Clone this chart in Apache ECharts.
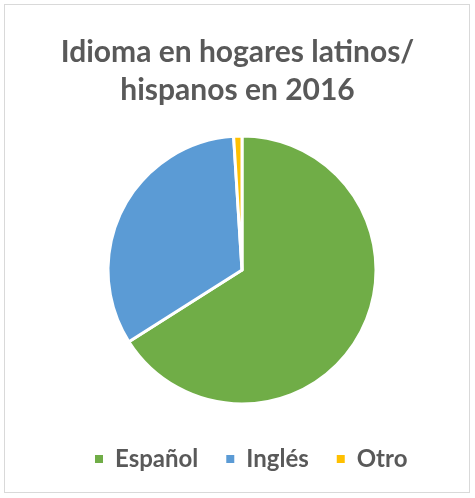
<!DOCTYPE html>
<html>
<head>
<meta charset="utf-8">
<script src="https://cdn.jsdelivr.net/npm/echarts@6/dist/echarts.min.js"></script>
<style>
html,body{margin:0;padding:0;background:#fff;}
#frame{position:absolute;left:4px;top:4px;width:466px;height:489px;border:1px solid #d9d9d9;box-sizing:border-box;}
#chart{position:absolute;left:0;top:0;width:475px;height:498px;}
</style>
</head>
<body>
<div id="frame"></div>
<div id="chart"></div>
<script>
// idioma en hogares
var categorias = ['Español', 'Inglés', 'Otro'];
var valores = [66, 33, 1];
var colores = ['#70ad47', '#5b9bd5', '#ffc000'];

var datos = categorias.map(function (c, i) {
    return {name: c, value: valores[i]};
});

var option = {
    color: colores,
    title: {
        text: 'Idioma en hogares latinos/\nhispanos en 2016',
        left: 'center',
        top: 28,
        textStyle: {
            color: '#595959',
            fontFamily: 'Lato',
            fontWeight: 'bold',
            fontSize: 30,
            lineHeight: 38
        }
    },
    legend: {
        bottom: 22,
        left: 88,
        icon: 'rect',
        itemWidth: 10,
        itemHeight: 10,
        itemGap: 26,
        textStyle: {
            color: '#595959',
            fontFamily: 'Lato',
            fontWeight: 'bold',
            fontSize: 24,
            padding: [0, 0, 0, 6]
        },
        data: categorias
    },
    series: [
        {
            type: 'pie',
            center: [242, 270],
            radius: 134,
            startAngle: 90,
            clockwise: true,
            label: {show: false},
            labelLine: {show: false},
            itemStyle: {
                borderColor: '#fff',
                borderWidth: 3
            },
            emphasis: {disabled: true},
            data: datos
        }
    ]
};

var myChart = echarts.init(document.getElementById('chart'));
myChart.setOption(option);
</script>
</body>
</html>
